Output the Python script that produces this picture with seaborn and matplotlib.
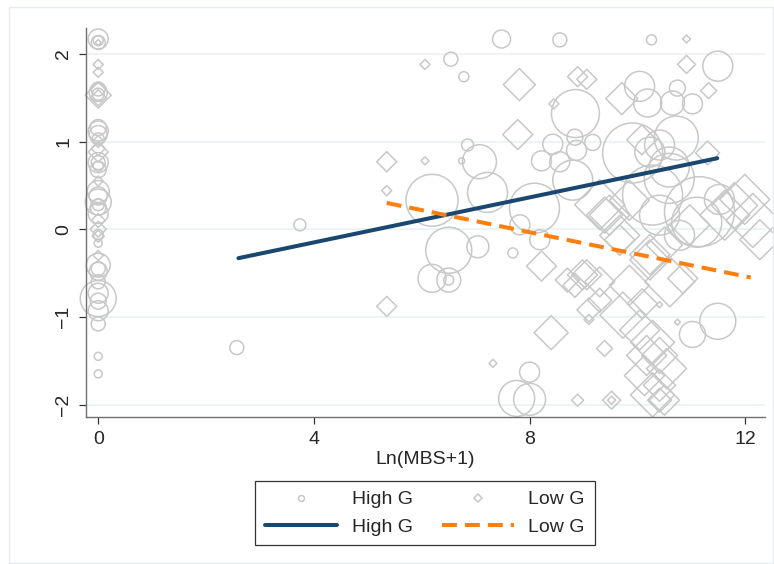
import matplotlib
matplotlib.use("Agg")
import matplotlib.pyplot as plt
from matplotlib.lines import Line2D
from matplotlib.patches import Rectangle
import pandas as pd
import seaborn as sns

# High G firms (circles): Ln(MBS+1), outcome, weight
high_x = [0, 0, 0, 0, 0, 0, 0, 0, 0, 0, 0, 0, 0, 0, 0, 0, 0, 0, 0, 0,
          0, 0, 0, 0, 0, 0, 0, 0, 0, 0, 0, 0, 0,
          3.74, 2.57,
          7.48, 8.56, 10.26, 6.54, 6.78, 11.49, 10.04, 10.74, 10.19, 10.65,
          11.02, 8.85, 6.85, 7.07, 6.74, 8.43, 8.84, 8.22, 8.56, 8.87,
          9.17, 8.80, 9.91, 10.72, 10.59, 6.19, 7.22, 8.09, 7.82, 8.19,
          6.50, 7.04, 7.69, 6.19, 6.50, 6.50, 8.00, 7.76, 8.00, 11.49,
          11.02, 10.59, 10.28, 11.15, 11.10, 10.78, 10.41, 11.52, 10.23, 10.41]
high_y = [2.17, 2.13, 2.15, 1.56, 1.54, 1.60, 1.12, 1.16, 1.03, 1.08,
          0.76, 0.76, 0.72, 0.68, 0.43, 0.31, 0.38, 0.25, 0.18, 0.28,
          -0.16, -0.06, -0.41, -0.48, -0.45, -0.79, -0.73, -0.82, -0.60, -0.93,
          -1.08, -1.45, -1.65,
          0.05, -1.35,
          2.17, 2.16, 2.16, 1.94, 1.74, 1.86, 1.63, 1.61, 1.44, 1.44,
          1.43, 1.32, 0.96, 0.77, 0.78, 0.97, 1.05, 0.78, 0.77, 0.90,
          0.99, 0.56, 0.87, 1.04, 0.71, 0.33, 0.42, 0.24, 0.05, -0.12,
          -0.24, -0.20, -0.27, -0.56, -0.58, -0.58, -1.63, -1.93, -1.94, -1.05,
          -1.20, 0.58, 0.39, 0.20, 0.08, -0.07, 0.16, 0.34, 0.88, 0.96]
high_w = [100, 49, 25, 81, 36, 49, 100, 64, 36, 81,
          100, 49, 25, 64, 121, 169, 81, 64, 100, 36,
          16, 25, 144, 81, 49, 324, 100, 64, 49, 100,
          49, 16, 16,
          36, 49,
          81, 49, 25, 49, 25, 225, 225, 64, 196, 144,
          100, 576, 36, 289, 9, 100, 64, 100, 100, 100,
          64, 400, 900, 484, 400, 676, 400, 625, 100, 100,
          529, 121, 25, 196, 144, 25, 100, 324, 256, 324,
          169, 625, 900, 1225, 625, 225, 400, 225, 225, 225]

# Low G firms (diamonds)
low_x = [0, 0, 0, 0, 0, 0, 0, 0, 0, 0, 0, 0, 0,
         6.06, 7.81, 8.45, 7.78, 5.35, 6.06, 5.35, 10.91, 10.91, 11.32,
         9.71, 8.89, 9.06, 10.08, 11.30, 12.14, 11.80, 5.35, 8.22, 8.40,
         7.32, 8.89, 9.52, 9.52, 9.39, 9.10, 9.10, 8.70, 9.06, 9.85,
         10.09, 9.73, 10.28, 10.17, 10.54, 10.28, 10.41, 10.60, 10.84, 9.30,
         8.98, 10.41, 9.30, 9.48, 9.67, 10.23, 10.41, 10.74,
         9.39, 9.85, 9.67, 10.23, 10.50, 10.97, 11.99, 12.27, 11.62, 10.04,
         10.41, 10.13, 10.50, 9.30, 8.84]
low_y = [2.13, 1.88, 1.79, 1.53, 1.50, 1.00, 0.88, 0.92, 0.10, 0.00, -0.08, 0.55, -0.30,
         1.88, 1.65, 1.43, 1.08, 0.77, 0.78, 0.44, 2.17, 1.88, 1.58,
         1.49, 1.74, 1.71, 1.02, 0.87, 0.10, 0.27, -0.88, -0.42, -1.18,
         -1.53, -1.95, -1.95, -1.95, -1.36, -0.92, -1.03, -0.58, -0.52, -0.64,
         -0.85, -0.98, -1.29, -1.44, -1.59, -1.89, -1.78, -0.60, -0.56, -0.60,
         -0.52, -1.95, 0.28, 0.16, -0.07, -0.29, -0.86, -1.06,
         0.16, 0.33, -0.12, -0.35, -0.18, 0.05, 0.34, -0.12, 0.16, -1.15,
         -1.44, -1.67, -1.95, -0.81, -0.64]
low_w = [9, 25, 25, 169, 64, 36, 100, 49, 49, 64, 36, 25, 25,
         25, 256, 25, 225, 100, 16, 25, 16, 81, 64,
         256, 100, 100, 225, 144, 729, 529, 100, 225, 289,
         16, 36, 81, 16, 64, 144, 25, 144, 225, 400,
         225, 529, 484, 400, 400, 484, 256, 625, 225, 225,
         225, 144, 625, 400, 400, 400, 9, 9,
         324, 400, 225, 400, 324, 400, 625, 400, 625, 400,
         324, 400, 225, 144, 144]

# fitted lines
fit_high_x = [2.6, 11.48]
fit_high_y = [-0.33, 0.81]
fit_low_x = [5.35, 12.1]
fit_low_y = [0.30, -0.55]

x_ticks = [0, 4, 8, 12]
y_ticks = [-2, -1, 0, 1, 2]

high = pd.DataFrame({"mbs": high_x, "y": high_y, "w": high_w})
low = pd.DataFrame({"mbs": low_x, "y": low_y, "w": low_w})

sns.set_theme(style="white")
plt.rcParams["font.family"] = ["Liberation Sans", "DejaVu Sans"]

gray = "#c8c8c8"
navy = "#1a476f"
orange = "#ff7f0e"
wmax = 1300  # weight -> marker area is linear

fig = plt.figure(figsize=(7.74, 5.64), dpi=100)
ax = fig.add_axes([0.111, 0.2606, 0.877, 0.690])

sns.scatterplot(data=high, x="mbs", y="y", size="w", sizes=(0, 2.07 * wmax),
                size_norm=(0, wmax), marker="o", facecolor="none", edgecolor=gray,
                linewidth=1.1, legend=False, ax=ax, clip_on=False)
sns.scatterplot(data=low, x="mbs", y="y", size="w", sizes=(0, 1.04 * wmax),
                size_norm=(0, wmax), marker="D", facecolor="none", edgecolor=gray,
                linewidth=1.1, legend=False, ax=ax, clip_on=False)

sns.lineplot(x=fit_high_x, y=fit_high_y, color=navy, linewidth=2.9, ax=ax)
sns.lineplot(x=fit_low_x, y=fit_low_y, color=orange, linewidth=2.9,
             linestyle=(0, (3.7, 2.0)), ax=ax)

ax.set_xlim(-0.228, 12.36)
ax.set_ylim(-2.142, 2.297)
ax.set_xticks(x_ticks)
ax.set_yticks(y_ticks)
ax.set_xlabel("Ln(MBS+1)", fontsize=14, labelpad=2)
ax.set_ylabel("")
ax.grid(axis="y", color="#eaf2f3", linewidth=1.2)
ax.grid(axis="x", visible=False)
ax.set_axisbelow(True)

for s in ["top", "right"]:
    ax.spines[s].set_visible(False)
for s in ["left", "bottom"]:
    ax.spines[s].set_color("#707070")
    ax.spines[s].set_linewidth(1.0)

ax.tick_params(axis="both", which="major", direction="out", length=5, width=0.9,
               color="#333333", labelsize=14, left=True, bottom=True)
ax.tick_params(axis="y", pad=5, labelrotation=90)
ax.tick_params(axis="x", pad=5)
for lab in ax.get_yticklabels():
    lab.set_va("center")

handles = [
    Line2D([], [], linestyle="none", marker="o", markersize=4.3, markerfacecolor="none",
           markeredgecolor=gray, markeredgewidth=1.1),
    Line2D([], [], color=navy, linewidth=2.9),
    Line2D([], [], linestyle="none", marker="D", markersize=4.2, markerfacecolor="none",
           markeredgecolor=gray, markeredgewidth=1.1),
    Line2D([], [], color=orange, linewidth=2.9, linestyle=(0, (3.7, 2.0))),
]
labels = ["High G", "High G", "Low G", "Low G"]
leg = fig.legend(handles, labels, ncol=2, loc="upper center",
                 bbox_to_anchor=(425 / 774, 1 - 481 / 564), fontsize=14,
                 frameon=True, fancybox=False, edgecolor="black",
                 handlelength=3.7, handletextpad=0.75, columnspacing=1.5,
                 labelspacing=0.5, borderpad=0.5, borderaxespad=0)
leg.get_frame().set_linewidth(0.9)

fig.patches.append(Rectangle((9 / 774, 1 / 564), 764 / 774, 556 / 564,
                             transform=fig.transFigure, fill=False,
                             edgecolor="#e4ecf0", linewidth=1.0))

fig.savefig("out.png", dpi=100)
